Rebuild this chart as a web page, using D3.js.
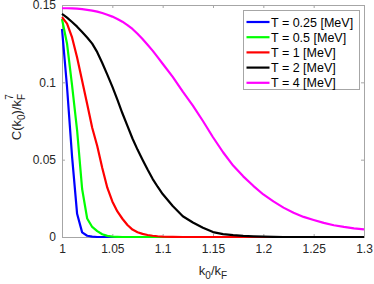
<!DOCTYPE html>
<head>
  <meta charset="utf-8">
  <script src="https://d3js.org/d3.v7.min.js"></script>
  <style>
    body { margin:0; background:#fff; }
    text { font-family: "Liberation Sans", Arial, sans-serif; fill: #262626; }
    .axis path, .axis line { stroke: #a6a6a6; }
  </style>
</head>

<body>
  <script>
    var W = 374, H = 284;
    var margin = { top: 5, right: 10, bottom: 47, left: 62 };
    var width = W - margin.left - margin.right;
    var height = H - margin.top - margin.bottom;

    // k0/kF grid: 0.005 steps up to 1.1, then 0.01 steps
    var k0 = [1, 1.005, 1.01, 1.015, 1.02, 1.025, 1.03, 1.035, 1.04, 1.045, 1.05,
      1.055, 1.06, 1.065, 1.07, 1.075, 1.08, 1.085, 1.09, 1.095, 1.1,
      1.11, 1.12, 1.13, 1.14, 1.15, 1.16, 1.17, 1.18, 1.19, 1.2,
      1.21, 1.22, 1.23, 1.24, 1.25, 1.26, 1.27, 1.28, 1.29, 1.3];

    var cT025 = [0.1345, 0.097, 0.052, 0.015, 0.003, 0.0008, 0.0002, 0, 0, 0, 0,
      0, 0, 0, 0, 0, 0, 0, 0, 0, 0,
      0, 0, 0, 0, 0, 0, 0, 0, 0, 0,
      0, 0, 0, 0, 0, 0, 0, 0, 0, 0];
    var cT05 = [0.141, 0.125, 0.098, 0.069, 0.031, 0.012, 0.0065, 0.0038, 0.0018, 0.0007, 0.0002,
      0.0001, 0, 0, 0, 0, 0, 0, 0, 0, 0,
      0, 0, 0, 0, 0, 0, 0, 0, 0, 0,
      0, 0, 0, 0, 0, 0, 0, 0, 0, 0];
    var cT1 = [0.1422, 0.138, 0.129, 0.116, 0.101, 0.086, 0.0706, 0.0588, 0.0446, 0.0319, 0.023,
      0.0165, 0.0118, 0.0078, 0.0048, 0.0031, 0.002, 0.0013, 0.0008, 0.0005, 0.0003,
      0.0001, 0, 0, 0, 0, 0, 0, 0, 0, 0,
      0, 0, 0, 0, 0, 0, 0, 0, 0, 0];
    var cT2 = [0.1442, 0.1418, 0.139, 0.136, 0.1325, 0.129, 0.125, 0.1195, 0.1125, 0.105, 0.0972,
      0.0888, 0.08, 0.0718, 0.0637, 0.0565, 0.05, 0.0436, 0.0376, 0.0325, 0.0278,
      0.02, 0.0134, 0.0094, 0.006, 0.0032, 0.0019, 0.0012, 0.0007, 0.0004, 0.0002,
      0.0001, 0, 0, 0, 0, 0, 0, 0, 0, 0];
    var cT4 = [0.1479, 0.1479, 0.1478, 0.1476, 0.1473, 0.1469, 0.1464, 0.1457, 0.1448, 0.1437, 0.1425,
      0.141, 0.1392, 0.137, 0.1345, 0.1314, 0.128, 0.1243, 0.1205, 0.1163, 0.112,
      0.1035, 0.094, 0.085, 0.075, 0.0645, 0.0548, 0.0462, 0.0392, 0.0331, 0.0275,
      0.023, 0.019, 0.0157, 0.013, 0.011, 0.0091, 0.0076, 0.0065, 0.0056, 0.0049];

    var seriesNames = ["T = 0.25 [MeV]", "T = 0.5 [MeV]", "T = 1 [MeV]", "T = 2 [MeV]", "T = 4 [MeV]"];
    var seriesColors = ["#0000ff", "#00ff00", "#ff0000", "#000000", "#ff00ff"];
    var seriesValues = [cT025, cT05, cT1, cT2, cT4];

    var xTicks = [1, 1.05, 1.1, 1.15, 1.2, 1.25, 1.3];
    var yTicks = [0, 0.05, 0.1, 0.15];

    var svg = d3.select("body").append("svg")
      .attr("width", W)
      .attr("height", H);
    var g = svg.append("g")
      .attr("transform", "translate(" + margin.left + "," + margin.top + ")");

    var x = d3.scaleLinear().domain([1, 1.3]).range([0, width]);
    var y = d3.scaleLinear().domain([0, 0.15]).range([height, 0]);

    // axes, ticks pointing inward like matlab
    g.append("g").attr("class", "axis")
      .attr("transform", "translate(0," + height + ")")
      .call(d3.axisBottom(x).tickValues(xTicks).tickSize(-3).tickPadding(7).tickFormat(d3.format("")));
    g.append("g").attr("class", "axis")
      .call(d3.axisTop(x).tickValues(xTicks).tickSize(-3).tickFormat(""));
    g.append("g").attr("class", "axis")
      .call(d3.axisLeft(y).tickValues(yTicks).tickSize(-3).tickPadding(6).tickFormat(d3.format("")));
    g.append("g").attr("class", "axis")
      .attr("transform", "translate(" + width + ",0)")
      .call(d3.axisRight(y).tickValues(yTicks).tickSize(-3).tickFormat(""));
    g.selectAll(".axis text").style("font-size", "12px").style("fill", "#262626");
    g.selectAll(".axis path").attr("stroke", "#a6a6a6");

    var line = d3.line()
      .x(function(d, i) { return x(k0[i]); })
      .y(function(d) { return y(d); });

    g.selectAll(".curve")
      .data(seriesValues)
      .enter()
      .append("path")
      .attr("class", "curve")
      .attr("fill", "none")
      .attr("stroke", function(d, i) { return seriesColors[i]; })
      .attr("stroke-width", 2.2)
      .attr("stroke-linejoin", "round")
      .attr("d", line);

    // legend
    var lg = svg.append("g").attr("transform", "translate(243.5,10.5)");
    lg.append("rect")
      .attr("width", 116).attr("height", 79)
      .attr("fill", "#fff").attr("stroke", "#a6a6a6");
    var items = lg.selectAll(".item")
      .data(seriesNames)
      .enter()
      .append("g")
      .attr("transform", function(d, i) { return "translate(0," + (11.5 + i * 15.2) + ")"; });
    items.append("line")
      .attr("x1", 3).attr("x2", 26)
      .attr("stroke", function(d, i) { return seriesColors[i]; })
      .attr("stroke-width", 2.2);
    items.append("text")
      .attr("x", 27.5).attr("y", 4.5)
      .style("font-size", "12.5px")
      .style("fill", "#000")
      .text(function(d) { return d; });

    // axis labels
    var xl = svg.append("text")
      .attr("x", margin.left + width / 2)
      .attr("y", 275)
      .attr("text-anchor", "middle")
      .style("font-size", "13px");
    xl.append("tspan").text("k");
    xl.append("tspan").attr("dy", 4).style("font-size", "10px").text("0");
    xl.append("tspan").attr("dy", -4).text("/k");
    xl.append("tspan").attr("dy", 4).style("font-size", "10px").text("F");

    var yl = svg.append("text")
      .attr("transform", "translate(21,117) rotate(-90)")
      .attr("text-anchor", "middle")
      .style("font-size", "13px");
    yl.append("tspan").text("C(k");
    yl.append("tspan").attr("dy", 4).style("font-size", "10px").text("0");
    yl.append("tspan").attr("dy", -4).text(")/k");
    yl.append("tspan").attr("dy", 4).style("font-size", "10px").text("F");
    yl.append("tspan").attr("dx", -6).attr("dy", -12).style("font-size", "10px").text("7");
  </script>
</body>
